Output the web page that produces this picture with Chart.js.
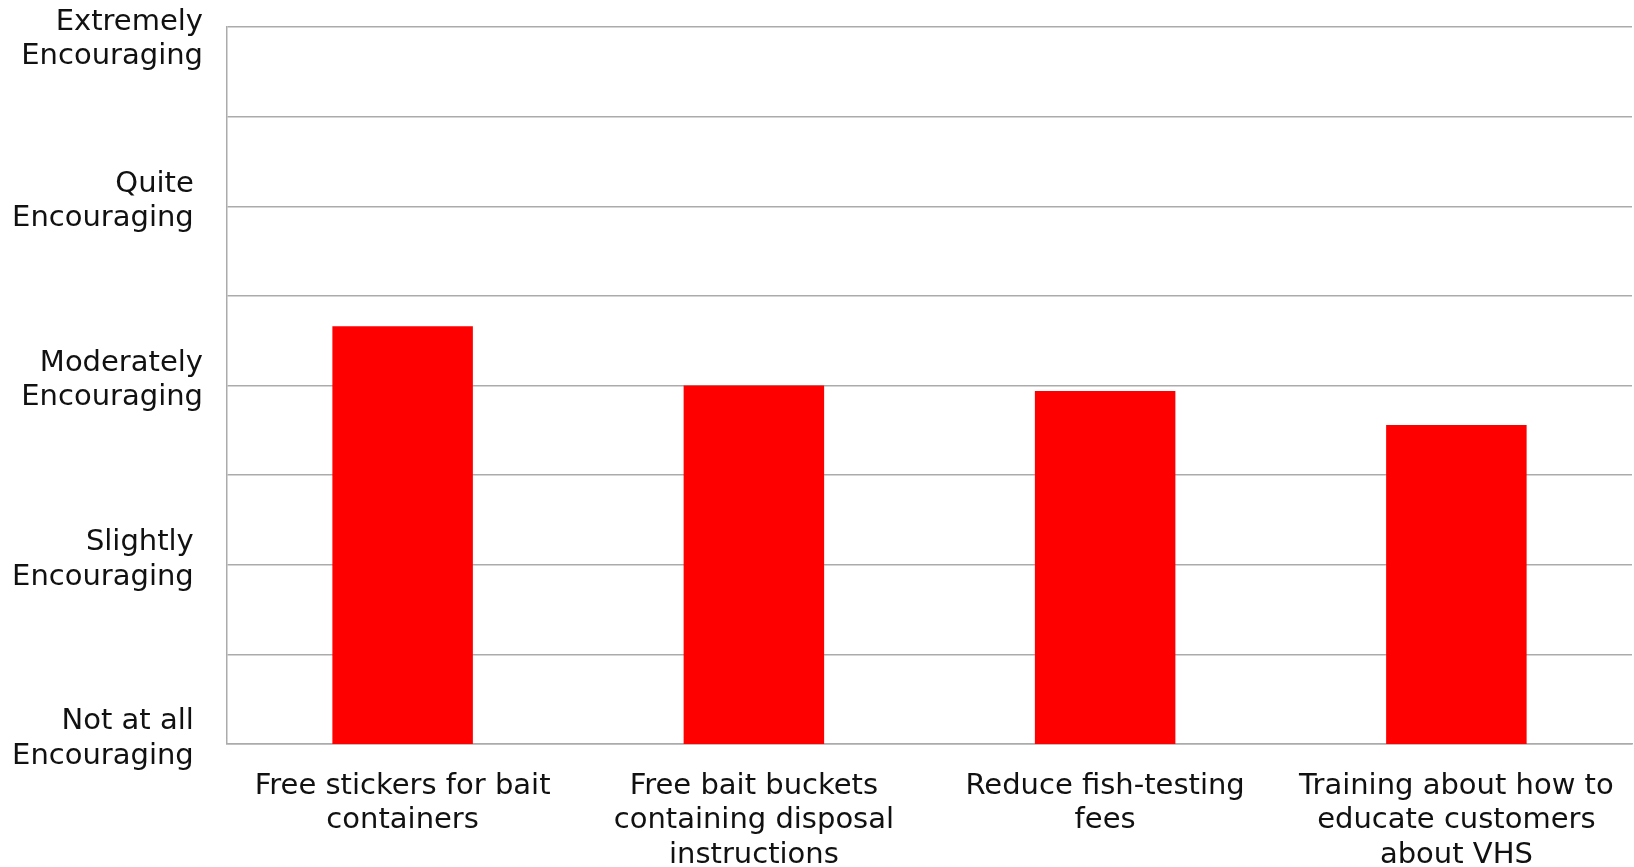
<!DOCTYPE html>
<html>
<head>
<meta charset="utf-8">
<script src="https://cdn.jsdelivr.net/npm/chart.js@4.4.1/dist/chart.umd.min.js"></script>
<style>
  html, body { margin: 0; padding: 0; background: #fff; }
  #wrap { width: 1634px; height: 867px; }
</style>
</head>
<body>
<div id="wrap"><canvas id="incentiveChart"></canvas></div>
<script>
// categories (x axis), one label line per array item
const categories = [
    ['Free stickers for bait', 'containers'],
    ['Free bait buckets', 'containing disposal', 'instructions'],
    ['Reduce fish-testing', 'fees'],
    ['Training about how to', 'educate customers', 'about VHS']
];

// mean rating on the 1-5 scale
const meanScores = [3.33, 3.0, 2.97, 2.78];

// y tick labels for 1..5
const scaleLabels = [
    ['Not at all ', 'Encouraging '],
    ['Slightly ', 'Encouraging '],
    ['Moderately', 'Encouraging'],
    ['Quite ', 'Encouraging '],
    ['', 'Extremely', 'Encouraging']
];

const labelFont = { family: "'DejaVu Sans', Verdana, sans-serif", size: 29, lineHeight: 1.19 };
const gridGray = '#ababab';

document.addEventListener('DOMContentLoaded', function() {
    const ctx = document.getElementById('incentiveChart').getContext('2d');
    new Chart(ctx, {
        type: 'bar',
        data: {
            labels: categories,
            datasets: [{
                data: meanScores,
                backgroundColor: '#ff0000',
                borderWidth: 0,
                categoryPercentage: 1,
                barPercentage: 0.4
            }]
        },
        options: {
            responsive: true,
            maintainAspectRatio: false,
            animation: false,
            layout: { padding: { top: 27, right: 2, left: 0, bottom: 0 } },
            plugins: {
                legend: { display: false },
                tooltip: { enabled: false }
            },
            scales: {
                x: {
                    grid: { display: false, drawTicks: false },
                    border: { display: true, color: gridGray, width: 1.5 },
                    ticks: {
                        color: '#111',
                        font: labelFont,
                        padding: 25,
                        maxRotation: 0,
                        autoSkip: false
                    },
                    afterFit: function(scale) {
                        scale.height = 123;
                        scale.paddingLeft = 0;
                        scale.paddingRight = 0;
                    }
                },
                y: {
                    min: 1,
                    max: 5,
                    grid: { color: gridGray, lineWidth: 1.5, drawTicks: false },
                    border: { display: true, color: gridGray, width: 1.5 },
                    ticks: {
                        stepSize: 0.5,
                        color: '#111',
                        font: labelFont,
                        padding: 24,
                        labelOffset: -5,
                        autoSkip: false,
                        callback: function(value) {
                            return Number.isInteger(value) ? scaleLabels[value - 1] : '';
                        }
                    },
                    afterFit: function(scale) {
                        scale.width = 227;
                        scale.paddingTop = 0;
                        scale.paddingBottom = 0;
                    }
                }
            }
        }
    });
});
</script>
</body>
</html>
